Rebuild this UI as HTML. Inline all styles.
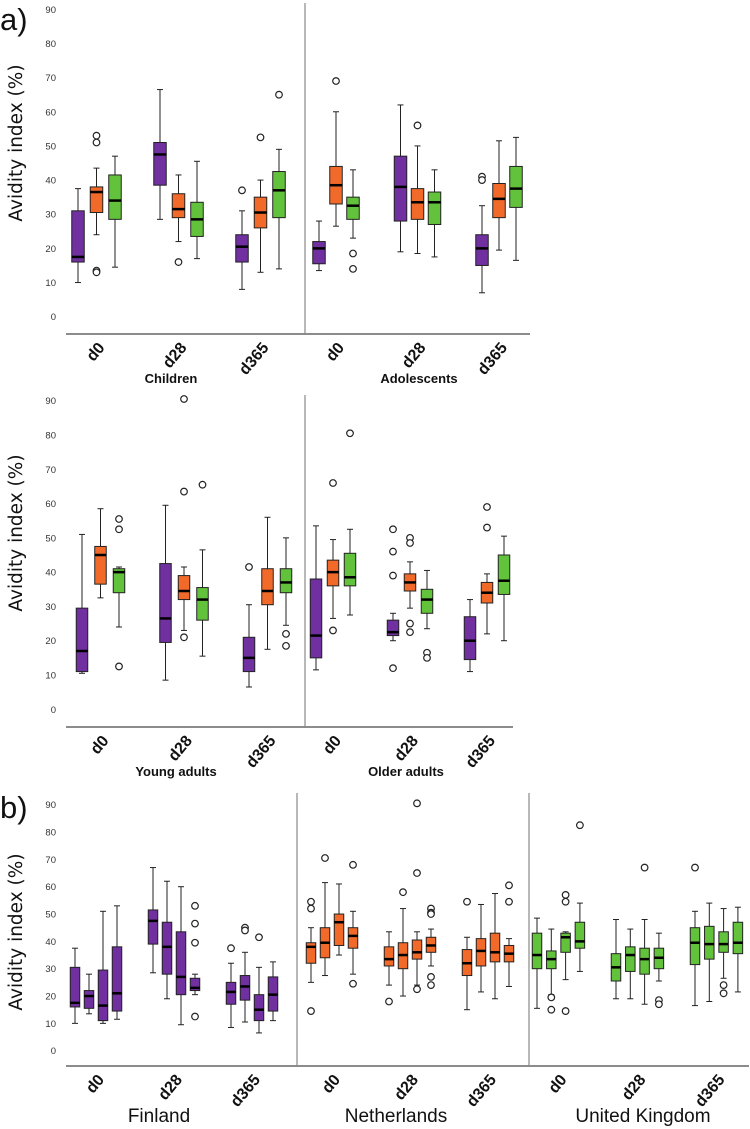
<!DOCTYPE html>
<html><head><meta charset="utf-8"><style>
html,body{margin:0;padding:0;background:#fff;}
svg{display:block;font-family:"Liberation Sans",sans-serif;}
</style></head><body>
<svg id="chart" width="750" height="1129" viewBox="0 0 750 1129" xmlns="http://www.w3.org/2000/svg">
<text x="0" y="30" font-size="31" fill="#111">a)</text>
<text x="0" y="818" font-size="31" fill="#111">b)</text>
<g id="layer"></g>
</svg>
<script>
// ---- data: each box = [lowWhisker, Q1, median, Q3, highWhisker] ----
const timepoints = ["d0","d28","d365"];
const yTicks = [0,10,20,30,40,50,60,70,80,90];
const seriesColors = ["#7030a0","#f26a2a","#62c23b"];
const bColors = ["#7030a0","#f26a2a","#62c23b"];

const childrenBoxes = [
 [[10,16,17.5,31,37.5],[24,30.5,36.5,38,43.5],[14.5,28.5,34,41.5,47]],
 [[28.5,38.5,47.5,51,66.5],[22,29,31.5,36,41.5],[17,23.5,28.5,33.5,45.5]],
 [[8,16,20.5,24,31],[13,26,30.5,35,40],[14,29,37,42.5,49]]];
const childrenOutliers = [[[],[53,51,13.5,13],[]],[[],[16],[]],[[37],[52.5],[65]]];
const adolescentsBoxes = [
 [[13.5,15.5,20,22,28],[26.5,33,38.5,44,60],[23,28.5,32.5,35,43]],
 [[19,28,38,47,62],[18.5,28.5,33.5,37.5,50],[17.5,27,33.5,36.5,43]],
 [[7,15,20,24,32.5],[19.5,29,34.5,39,51.5],[16.5,32,37.5,44,52.5]]];
const adolescentsOutliers = [[[],[69],[18.5,14]],[[],[56],[]],[[41,40],[],[]]];
const youngBoxes = [
 [[10.5,11,17,29.5,51],[32.5,36.5,45,47.5,58.5],[24,34,40,41,41.5]],
 [[8.5,19.5,26.5,42.5,59.5],[23,32,34.5,39,41.5],[15.5,26,32,35.5,46.5]],
 [[6.5,11,15,21,30.5],[17.5,30.5,34.5,41,56],[24.5,34,37,41,50]]];
const youngOutliers = [[[],[],[55.5,52.5,12.5]],[[],[90.5,63.5,21],[65.5]],[[41.5],[],[22,18.5]]];
const olderBoxes = [
 [[11.5,15,21.5,38,53.5],[26.5,36,40,43.5,49.5],[27.5,36,38.5,45.5,52.5]],
 [[20,21.5,22.5,26,28],[29.5,34.5,37,39.5,43],[23.5,28,32,35,40.5]],
 [[11,14.5,20,27,32],[22,31,34,37,39.5],[20,33.5,37.5,45,50.5]]];
const olderOutliers = [[[],[66,23],[80.5]],[[52.5,46,39,12],[50,48.5,25,22.5],[16.5,15]],[[],[59,53],[]]];
const finlandBoxes = [
 [[10,16,17.5,30.5,37.5],[13.5,15.5,20,22,28],[10,11,16.5,29.5,51],[11.5,14.5,21,38,53]],
 [[28.5,39,47.5,51.5,67],[19,28,38,47,62],[9.5,20.5,27,43.5,60],[20.5,22,23,26.5,28]],
 [[8.5,17,21.5,25,32],[10.5,18.5,23.5,27.5,36],[6.5,11,15,20.5,30.5],[11,14.5,20.5,27,32.5]]];
const finlandOutliers = [[[],[],[],[]],[[],[],[],[53,46.5,39.5,12.5]],[[37.5],[45,44],[41.5],[]]];
const netherlandsBoxes = [
 [[25,32,38,39.5,45],[27.5,34,39.5,45,61.5],[35,38.5,47,50,61],[28,37.5,42,45,51]],
 [[24,31,33.5,38,43.5],[20,30,35,39.5,52],[24,33.5,36,40.5,43.5],[31,36,38.5,41.5,44.5]],
 [[15,27.5,32,37,41.5],[21.5,31,36.5,41,53.5],[19,32.5,36,43,57.5],[23.5,32.5,35.5,38.5,41]]];
const netherlandsOutliers = [[[54.5,52,14.5],[70.5],[],[68,24.5]],[[18],[58],[90.5,65,22.5],[52,50.5,50,27,24]],[[54.5],[],[],[60.5,54.5]]];
const ukBoxes = [
 [[15.5,30,35,43,48.5],[20.5,30,33.5,36.5,44.5],[26,36,41.5,43,43.5],[29,37.5,40,47,54]],
 [[19,25.5,30.5,35.5,48],[19,29,35,38,44.5],[17,28,33.5,37.5,48],[25.5,30,34,37.5,43]],
 [[16.5,31.5,39.5,45,51],[18,33.5,39,45.5,54],[26.5,36,39,43.5,52],[21.5,35.5,39.5,47,52.5]]];
const ukOutliers = [[[],[19.5,15],[57,54.5,14.5],[82.5]],[[],[],[67],[18.5,17]],[[67],[],[24,21],[]]];

const NS="http://www.w3.org/2000/svg";
const layer=document.getElementById('layer');
function el(tag,attrs,parent){const e=document.createElementNS(NS,tag);for(const k in attrs)e.setAttribute(k,attrs[k]);(parent||layer).appendChild(e);return e;}

const panels=[
 {name:'a-top',y0:316.7,y90:9.3,axisY:334,left:66,right:530,top:3,titleY:143,segs:[
   {name:'children',label:'Children',boxes:childrenBoxes,outl:childrenOutliers,x0:78,gStep:82,bStep:18.5,bw:12.5,colorMode:'series',labX:171,labY:383,labSize:13,labBold:true},
   {name:'adolescents',label:'Adolescents',boxes:adolescentsBoxes,outl:adolescentsOutliers,x0:319,gStep:81.5,bStep:17,bw:12.5,colorMode:'series',labX:419,labY:383,labSize:13,labBold:true}],dividers:[305]},
 {name:'a-middle',y0:709.3,y90:400.7,axisY:727,left:66,right:513,top:395,titleY:533,segs:[
   {name:'young-adults',label:'Young adults',boxes:youngBoxes,outl:youngOutliers,x0:82,gStep:83.5,bStep:18.5,bw:11.5,colorMode:'series',labX:176,labY:776,labSize:13,labBold:true},
   {name:'older-adults',label:'Older adults',boxes:olderBoxes,outl:olderOutliers,x0:316,gStep:77,bStep:17,bw:11.5,colorMode:'series',labX:406,labY:776,labSize:13,labBold:true}],dividers:[305]},
 {name:'b',y0:1050.7,y90:804.7,axisY:1066,left:66,right:749,top:793,titleY:932,segs:[
   {name:'finland',label:'Finland',boxes:finlandBoxes,outl:finlandOutliers,x0:75,gStep:78,bStep:14,bw:9.5,colorMode:0,labX:159,labY:1122,labSize:19,labBold:false},
   {name:'netherlands',label:'Netherlands',boxes:netherlandsBoxes,outl:netherlandsOutliers,x0:311,gStep:78,bStep:14,bw:9.5,colorMode:1,labX:396,labY:1122,labSize:19,labBold:false},
   {name:'united-kingdom',label:'United Kingdom',boxes:ukBoxes,outl:ukOutliers,x0:537,gStep:79,bStep:14.3,bw:9.5,colorMode:2,labX:643,labY:1122,labSize:19,labBold:false}],dividers:[297,529]}
];

panels.forEach(p=>{
  const sc=(p.y0-p.y90)/90;
  const yS=v=>p.y0-v*sc;
  const g=el('g',{});
  
  
  const t=el('text',{x:0,y:0,transform:`translate(22,${p.titleY}) rotate(-90)`,'text-anchor':'middle','font-size':18.5,'font-family':'"DejaVu Sans",sans-serif',fill:'#111'},g);
  t.textContent='Avidity index (%)';
  
  
  yTicks.forEach(v=>{
    const tt=el('text',{x:56,y:yS(v)+3.5,'text-anchor':'end','font-size':9.5,fill:'#333'},g);
    tt.textContent=v;
    
    
  });
  const ax=el('line',{x1:p.left,x2:p.right,y1:p.axisY,y2:p.axisY,stroke:'#666','stroke-width':1.5},g);
  
  
  p.dividers.forEach(dx=>{
    const d=el('line',{x1:dx,x2:dx,y1:p.top,y2:p.axisY,stroke:'#888','stroke-width':1.2},g);
    
    
  });
  p.segs.forEach(s=>{
    const sg=el('g',{},g);
    
    
    s.boxes.forEach((grp,gi)=>{
      const n=grp.length;
      const gx=s.x0+gi*s.gStep;
      const cx=gx+(n-1)*s.bStep/2;
      const tl=el('text',{x:0,y:0,transform:`translate(${cx+9},${p.axisY+14}) rotate(-50)`,'text-anchor':'end','font-size':16,'font-weight':'bold',fill:'#111'},sg);
      tl.textContent=timepoints[gi];
      
      
      grp.forEach((b,bi)=>{
        const x=gx+bi*s.bStep;
        const col=s.colorMode==='series'?seriesColors[bi]:bColors[s.colorMode];
        const bx=el('g',{},sg);
        
        
        const [lo,q1,md,q3,hi]=b;
        el('line',{x1:x,x2:x,y1:yS(hi),y2:yS(q3),stroke:'#222','stroke-width':1},bx);
        el('line',{x1:x,x2:x,y1:yS(q1),y2:yS(lo),stroke:'#222','stroke-width':1},bx);
        el('line',{x1:x-3,x2:x+3,y1:yS(hi),y2:yS(hi),stroke:'#222','stroke-width':1},bx);
        el('line',{x1:x-3,x2:x+3,y1:yS(lo),y2:yS(lo),stroke:'#222','stroke-width':1},bx);
        el('rect',{x:x-s.bw/2,y:yS(q3),width:s.bw,height:yS(q1)-yS(q3),fill:col,stroke:'#222','stroke-width':1},bx);
        el('line',{x1:x-s.bw/2,x2:x+s.bw/2,y1:yS(md),y2:yS(md),stroke:'#000','stroke-width':2.5},bx);
        (s.outl[gi][bi]||[]).forEach(o=>{
          const c=el('circle',{cx:x,cy:yS(o),r:3.3,fill:'#fff',stroke:'#222','stroke-width':1.2},bx);
          
          
        });
      });
    });
    const lab=el('text',{x:s.labX,y:s.labY,'text-anchor':'middle','font-size':s.labSize,'font-weight':s.labBold?'bold':'normal',fill:'#111'},sg);
    lab.textContent=s.label;
    
    
  });
});
</script>
</body></html>
